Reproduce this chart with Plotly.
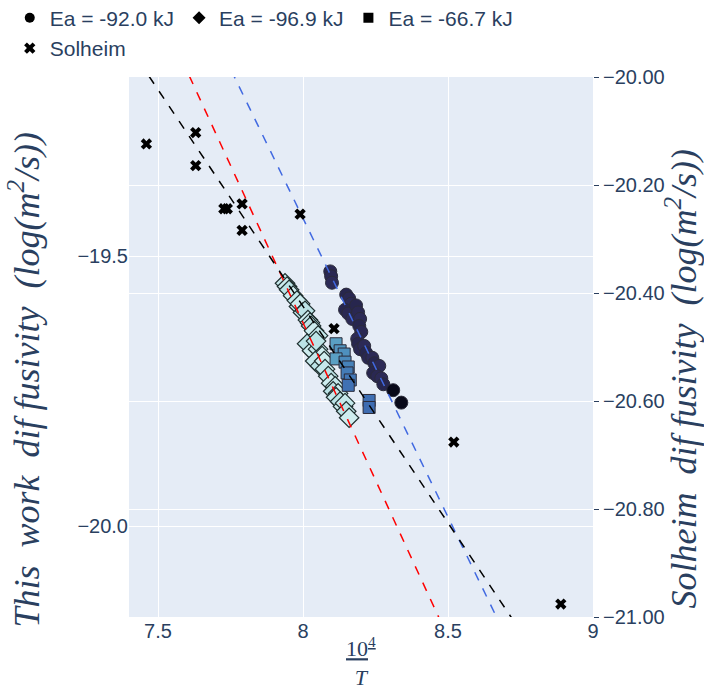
import numpy as np
import plotly.graph_objects as go

R = 8.314  # gas constant, J/(mol K)

# ---- this work: 10^4/T and log10 D, three sample sets -------------------
circ_x = [8.094, 8.097, 8.100, 8.149, 8.159, 8.166, 8.145, 8.156, 8.170, 8.183,
          8.190, 8.197, 8.194, 8.201, 8.187, 8.190, 8.197, 8.211, 8.218, 8.225,
          8.239, 8.246, 8.252, 8.263, 8.242, 8.256, 8.270, 8.277, 8.311, 8.339]
circ_y = [-19.528, -19.537, -19.549, -19.571, -19.578, -19.588, -19.599, -19.606,
          -19.616, -19.591, -19.604, -19.616, -19.629, -19.640, -19.653, -19.662,
          -19.672, -19.666, -19.679, -19.688, -19.688, -19.698, -19.707, -19.703,
          -19.716, -19.722, -19.726, -19.737, -19.748, -19.771]
circ_c = [0.17, 0.17, 0.18, 0.16, 0.17, 0.18, 0.16, 0.17, 0.18, 0.16,
          0.17, 0.18, 0.16, 0.17, 0.18, 0.16, 0.17, 0.18, 0.16, 0.17,
          0.18, 0.16, 0.17, 0.18, 0.16, 0.17, 0.18, 0.16, 0.02, 0.02]

diam_x = [7.938, 7.945, 7.952, 7.966, 7.979, 7.986, 7.990, 8.000, 8.007, 8.017,
          8.024, 8.028, 8.038, 8.052, 8.014, 8.031, 8.052, 8.045, 8.066, 8.042,
          8.059, 8.073, 8.076, 8.087, 8.097, 8.111, 8.104, 8.121, 8.114, 8.128,
          8.138, 8.145, 8.149, 8.159]
diam_y = [-19.550, -19.556, -19.562, -19.573, -19.582, -19.593, -19.588, -19.604,
          -19.601, -19.618, -19.623, -19.629, -19.638, -19.647, -19.662, -19.675,
          -19.672, -19.657, -19.685, -19.694, -19.703, -19.694, -19.709, -19.722,
          -19.735, -19.741, -19.750, -19.754, -19.761, -19.769, -19.778, -19.772,
          -19.787, -19.799]
diam_c = [0.92, 0.94, 0.90, 0.94, 0.92, 0.90, 0.94, 0.92, 0.90, 0.94,
          0.92, 0.90, 0.94, 0.92, 0.90, 0.94, 0.92, 0.90, 0.94, 0.92,
          0.90, 0.94, 0.92, 0.90, 0.94, 0.92, 0.90, 0.94, 0.92, 0.90,
          0.94, 0.92, 0.90, 0.94]

sq_x = [8.114, 8.128, 8.142, 8.114, 8.145, 8.156, 8.152, 8.163, 8.156, 8.228, 8.228]
sq_y = [-19.662, -19.675, -19.681, -19.690, -19.696, -19.705, -19.716, -19.729,
        -19.739, -19.767, -19.780]
sq_c = [0.64, 0.60, 0.58, 0.64, 0.56, 0.53, 0.51, 0.49, 0.47, 0.46, 0.45]

# ---- Solheim data (right axis) -----------------------------------------
sol_x = [7.460, 7.630, 7.630, 7.727, 7.739, 7.790, 7.790, 7.990, 8.107, 8.520, 8.889]
sol_y = [-20.124, -20.103, -20.164, -20.244, -20.244, -20.235, -20.284, -20.254,
         -20.466, -20.676, -20.976]

# ---- Arrhenius fits: activation energy (kJ) and intercept ----------------
fit_names = ["Ea = -92.0 kJ", "Ea = -96.9 kJ", "Ea = -66.7 kJ"]
fit_ea_kj = [-92.0, -96.9, -66.7]
fit_b = [-10.577, -10.299, -13.1745]
fit_colors = ["royalblue", "red", "black"]
legend_symbols = ["circle", "diamond", "square"]

X_RANGE = [7.4, 9.0]
Y1_RANGE = [-20.168, -19.168]
Y2_RANGE = [-21.0, -20.0]

FONT = "Arial, Liberation Sans, sans-serif"
TXT = "#2a3f5f"
SERIF = "Liberation Serif, DejaVu Serif, serif"

fig = go.Figure()

edge = dict(color="#2b2b3a", width=1)
fig.add_trace(go.Scatter(x=circ_x, y=circ_y, mode="markers", showlegend=False,
                         marker=dict(symbol="circle", size=13, color=circ_c,
                                     colorscale="ice", cmin=0, cmax=1, line=edge)))
fig.add_trace(go.Scatter(x=diam_x, y=diam_y, mode="markers", showlegend=False,
                         marker=dict(symbol="diamond", size=15, color=diam_c,
                                     colorscale="ice", cmin=0, cmax=1,
                                     line=dict(color="#1f2f2f", width=1.2))))
fig.add_trace(go.Scatter(x=sq_x, y=sq_y, mode="markers", showlegend=False,
                         marker=dict(symbol="square", size=12, color=sq_c,
                                     colorscale="ice", cmin=0, cmax=1, line=edge)))

fig.add_trace(go.Scatter(x=sol_x, y=sol_y, mode="markers", name="Solheim",
                         yaxis="y2", legendrank=1004,
                         marker=dict(symbol="x", size=10, color="black")))

# fitted lines, slope = Ea / (R * 1e4) in the 10^4/T coordinate
xs = np.linspace(X_RANGE[0], X_RANGE[1], 50)
for ea, b, col in zip(fit_ea_kj, fit_b, fit_colors):
    m = ea * 1000.0 / (R * 1e4)
    fig.add_trace(go.Scatter(x=xs, y=b + m * xs, mode="lines", showlegend=False,
                             line=dict(color=col, width=1.5, dash="dash")))

# legend entries in black
for i, (name, sym) in enumerate(zip(fit_names, legend_symbols)):
    fig.add_trace(go.Scatter(x=[None], y=[None], mode="markers", name=name,
                             legendrank=1001 + i,
                             marker=dict(symbol=sym, size=10, color="black")))

fig.update_layout(
    width=704, height=694,
    margin=dict(l=129, r=111, t=77, b=77, autoexpand=False),
    template="plotly",
    font=dict(family=FONT, size=20, color=TXT),
    plot_bgcolor="#E5ECF6",
    legend=dict(orientation="h", x=-0.257, xanchor="left", y=1.147, yanchor="top",
                font=dict(size=21), itemwidth=30, bgcolor="rgba(0,0,0,0)",
                tracegroupgap=0),
    xaxis=dict(range=X_RANGE, tickvals=[7.5, 8, 8.5, 9], ticktext=["7.5", "8", "8.5", "9"],
               showgrid=True, gridcolor="white", zeroline=False, automargin=False),
    yaxis=dict(range=Y1_RANGE, dtick=0.5, tick0=-20.0, tickformat=".1f",
               showgrid=True, gridcolor="white", zeroline=False, automargin=False),
    yaxis2=dict(range=Y2_RANGE, overlaying="y", side="right", dtick=0.2, tick0=-21.0,
                tickformat=".2f", ticks="outside", ticklen=5, tickcolor=TXT,
                showgrid=True, gridcolor="white", zeroline=False, automargin=False),
)

title_font = dict(family=SERIF, size=36, color=TXT)
fig.add_annotation(text="<i>This  work  dif fusivity  (log(m<sup>2</sup>/s))</i>",
                   xref="paper", yref="paper", x=-0.226, y=0.44, textangle=-90,
                   showarrow=False, font=title_font, xanchor="center", yanchor="middle")
fig.add_annotation(text="<i>Solheim  dif fusivity  (log(m<sup>2</sup>/s))</i>",
                   xref="paper", yref="paper", x=1.19, y=0.442, textangle=-90,
                   showarrow=False, font=title_font, xanchor="center", yanchor="middle")
fig.add_annotation(text="<u>10<sup>4</sup></u><br><i>T</i>",
                   xref="paper", yref="paper", x=0.5, y=-0.083,
                   showarrow=False, font=dict(family=SERIF, size=22, color=TXT),
                   xanchor="center", yanchor="middle")

fig.write_html("out.html")
